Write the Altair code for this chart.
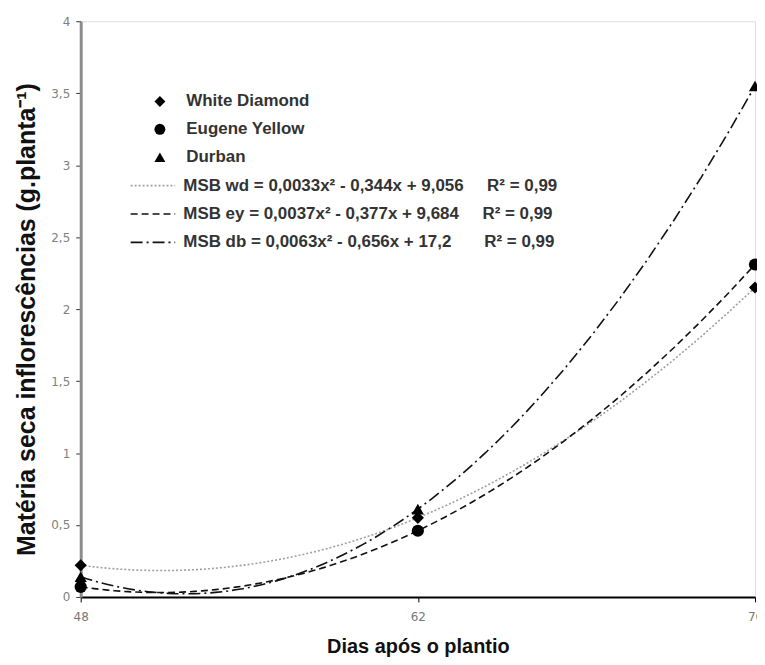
import altair as alt
import pandas as pd

days = [48, 62, 76]
white_diamond = [0.22, 0.55, 2.15]
eugene_yellow = [0.07, 0.46, 2.31]
durban = [0.14, 0.61, 3.55]

series_names = ["White Diamond", "Eugene Yellow", "Durban"]
series_shapes = ["diamond", "circle", "triangle-up"]
NB = "\u00a0"
equations = [
    "MSB wd = 0,0033x² - 0,344x + 9,056" + NB * 5 + "R² = 0,99",
    "MSB ey = 0,0037x² - 0,377x + 9,684" + NB * 5 + "R² = 0,99",
    "MSB db = 0,0063x² - 0,656x + 17,2" + NB * 7 + "R² = 0,99",
]
line_colors = ["#a0a0a0", "#111111", "#111111"]
line_dashes = [[2, 2], [7, 4], [12, 4, 2, 4]]

rows = []
for name, eq, vals in zip(series_names, equations, [white_diamond, eugene_yellow, durban]):
    for d, v in zip(days, vals):
        rows.append({"dias": d, "msb": v, "serie": name, "eq": eq})
df = pd.DataFrame(rows)

font = "Liberation Sans"

x_enc = alt.X(
    "dias:Q",
    scale=alt.Scale(domain=[48, 76], nice=False, zero=False),
    axis=alt.Axis(
        values=days, title="Dias após o plantio", grid=False,
        domainColor="#000000", domainWidth=2, tickColor="#000000", tickSize=5,
        labelColor="#777777", labelFont="DejaVu Sans", labelFontSize=12, labelPadding=10,
        titleFont=font, titleFontSize=20, titleFontWeight="bold", titleColor="#111111",
        titlePadding=14, labelFlush=False,
    ),
)
y_enc = alt.Y(
    "msb:Q",
    scale=alt.Scale(domain=[0, 4], nice=False),
    axis=alt.Axis(
        values=[0, 0.5, 1, 1.5, 2, 2.5, 3, 3.5, 4], title="Matéria seca inflorescências (g.planta⁻¹)",
        grid=False, domainColor="#8c8c8c", domainWidth=3, tickColor="#333333", tickSize=5,
        labelExpr="replace(toString(datum.value), '.', ',')",
        labelColor="#808080", labelFont="DejaVu Sans", labelFontSize=12, labelPadding=6,
        titleFont=font, titleFontSize=25, titleFontWeight="bold", titleColor="#111111",
        titlePadding=11, titleY=299,
    ),
)

line_legend = alt.Legend(
    title=None, orient="none", legendX=49, legendY=156,
    symbolType="stroke", symbolSize=2000, symbolStrokeWidth=1.6,
    labelFont=font, labelFontSize=17, labelFontWeight="bold", labelColor="#333333",
    labelLimit=600, labelOffset=7, rowPadding=10.5, clipHeight=18,
)

curves = alt.Chart(df).transform_regression(
    "dias", "msb", method="poly", order=2, groupby=["eq"], extent=[48, 76]
).mark_line(strokeWidth=1.6).encode(
    x=x_enc,
    y=y_enc,
    color=alt.Color("eq:N", scale=alt.Scale(domain=equations, range=line_colors), legend=line_legend),
    strokeDash=alt.StrokeDash("eq:N", scale=alt.Scale(domain=equations, range=line_dashes), legend=line_legend),
)

points = alt.Chart(df).mark_point(filled=True, opacity=1, color="#000000").encode(
    x=alt.X("dias:Q"),
    y=alt.Y("msb:Q"),
    shape=alt.Shape(
        "serie:N",
        scale=alt.Scale(domain=series_names, range=series_shapes),
        legend=alt.Legend(
            title=None, orient="none", legendX=71, legendY=72,
            symbolFillColor="#000000", symbolStrokeColor="#000000", symbolSize=120,
            labelFont=font, labelFontSize=17, labelFontWeight="bold", labelColor="#333333",
            labelLimit=600, labelOffset=18, rowPadding=10,
        ),
    ),
    size=alt.value(150),
)

chart = alt.layer(curves, points).properties(
    width=677, height=578,
    autosize=alt.AutoSizeParams(type="none"),
    padding={"left": 73, "top": 12, "right": 2, "bottom": 60},
).configure_view(stroke=None).configure(background="white")

chart.save("out.html", embed_options={"renderer": "svg", "actions": False})
